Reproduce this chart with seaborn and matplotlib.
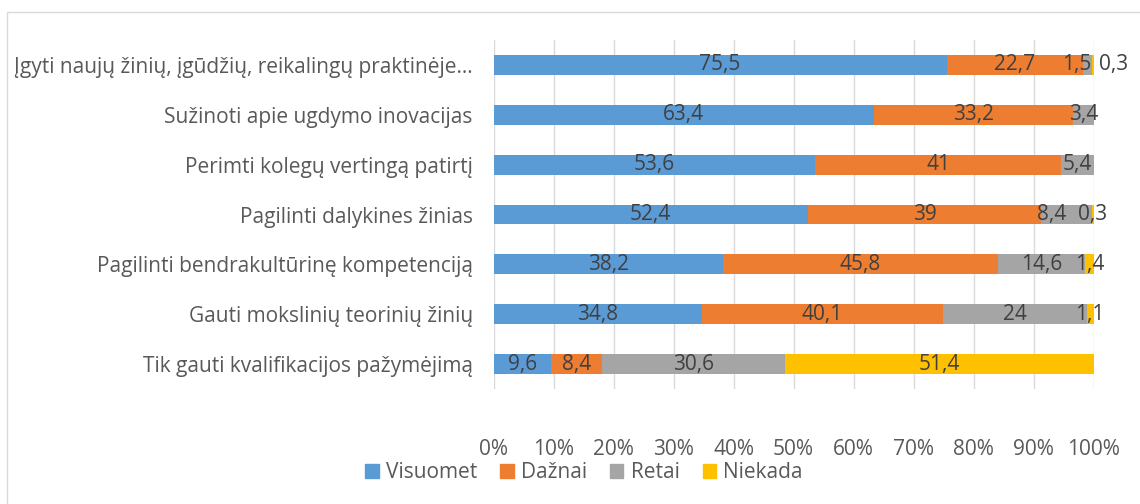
import numpy as np
import pandas as pd
import seaborn as sns
import matplotlib.pyplot as plt
from matplotlib.patches import Patch
from matplotlib.ticker import PercentFormatter

categories = [
    'Įgyti naujų žinių, įgūdžių, reikalingų praktinėje…',
    'Sužinoti apie ugdymo inovacijas',
    'Perimti kolegų vertingą patirtį',
    'Pagilinti dalykines žinias',
    'Pagilinti bendrakultūrinę kompetenciją',
    'Gauti mokslinių teorinių žinių',
    'Tik gauti kvalifikacijos pažymėjimą',
]
visuomet = [75.5, 63.4, 53.6, 52.4, 38.2, 34.8, 9.6]
daznai = [22.7, 33.2, 41.0, 39.0, 45.8, 40.1, 8.4]
retai = [1.5, 3.4, 5.4, 8.4, 14.6, 24.0, 30.6]
niekada = [0.3, 0.0, 0.0, 0.3, 1.4, 1.1, 51.4]

series_names = ['Visuomet', 'Dažnai', 'Retai', 'Niekada']
series_values = [visuomet, daznai, retai, niekada]
colors = ['#5B9BD5', '#ED7D31', '#A5A5A5', '#FFC000']

# labels nudged sideways in the original so the tiny ones don't collide
# (series, row) -> shift in percent units
label_nudge = {('Retai', 0): -1.7, ('Niekada', 0): 3.5, ('Retai', 3): -2.5}

sns.set_style('white')
plt.rcParams['font.family'] = ['Open Sans', 'DejaVu Sans']
FS = 15

fig = plt.figure(figsize=(11.4, 5.04), dpi=100)
ax = fig.add_axes([493.5 / 1140, 1 - 389 / 504, 600 / 1140, 349 / 504])

# 100% stacked: normalise each row by its total
totals = np.sum(series_values, axis=0)
left = np.zeros(len(categories))
for name, vals, col in zip(series_names, series_values, colors):
    share = np.array(vals) / totals * 100
    df = pd.DataFrame({'cat': categories, 'share': share})
    sns.barplot(data=df, x='share', y='cat', order=categories, color=col,
                width=0.4, left=left, ax=ax, saturation=1, linewidth=0)
    cont = ax.containers[-1]
    labels = [f'{v:g}'.replace('.', ',') if v > 0 else '' for v in vals]
    texts = ax.bar_label(cont, labels=labels, label_type='center',
                         fontsize=FS, color='#404040')
    for i, t in enumerate(texts):
        dx = label_nudge.get((name, i))
        if dx:
            # center labels are anchored in bar-fraction coords
            t.xy = (0.5 + dx / share[i], 0.5)
    left = left + share

ax.set_xlim(0, 100)
ax.set_ylim(len(categories) - 0.5, -0.5)
ax.xaxis.set_major_locator(plt.MultipleLocator(10))
ax.xaxis.set_major_formatter(PercentFormatter(decimals=0))
ax.set_xlabel('')
ax.set_ylabel('')
ax.grid(axis='x', color='#D9D9D9', linewidth=1)
ax.set_axisbelow(True)
for s in ax.spines.values():
    s.set_visible(False)
ax.tick_params(axis='both', length=0, labelsize=FS, labelcolor='#595959')
ax.tick_params(axis='x', pad=36)
ax.tick_params(axis='y', pad=15)

handles = [Patch(color=c, label=n) for n, c in zip(series_names, colors)]
leg = fig.legend(handles=handles, loc='center', bbox_to_anchor=(584 / 1140, 1 - 473 / 504),
                 ncol=4, frameon=False, fontsize=FS, handlelength=0.65, handleheight=0.65,
                 handletextpad=0.35, columnspacing=1.1)
for t in leg.get_texts():
    t.set_color('#595959')

# chart-area border like the office chart frame
fig.patches.append(plt.Rectangle((7 / 1140, -0.01), 1.01, 1 - 12 / 504 + 0.01,
                                 transform=fig.transFigure, fill=False,
                                 edgecolor='#D9D9D9', linewidth=1))

fig.savefig('out.png', dpi=100)
